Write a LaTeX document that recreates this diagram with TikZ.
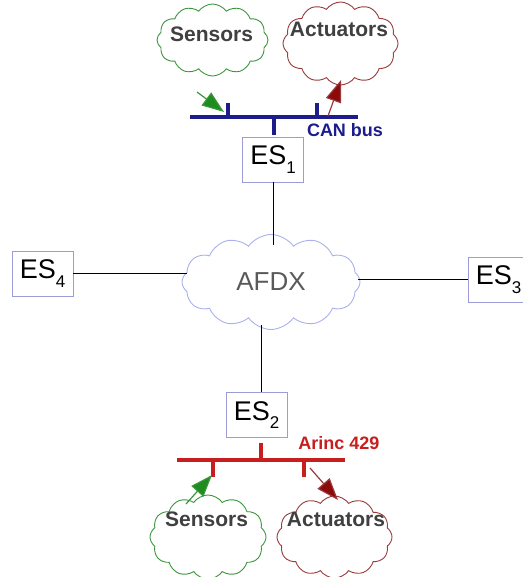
\documentclass[tikz,border=0pt]{standalone}
\usepackage{fontspec}
\setmainfont{Liberation Sans}
\usetikzlibrary{arrows.meta,shapes.symbols}
\definecolor{canblue}{HTML}{1C1C8C}
\definecolor{arincred}{HTML}{C81E1E}
\definecolor{sensgreen}{HTML}{3A963A}
\definecolor{sensfill}{HTML}{1E8C1E}
\definecolor{actred}{HTML}{9A3A3A}
\definecolor{actfill}{HTML}{8C0A0A}
\definecolor{boxline}{HTML}{9C9CDA}
\definecolor{afdxline}{HTML}{AAB0EE}
\definecolor{labelgray}{HTML}{404040}
\newcommand{\essub}[1]{ES\raisebox{-0.6ex}{\fontsize{17}{17}\selectfont #1}}

\begin{document}
\begin{tikzpicture}[x=1pt,y=-1pt,
    esbox/.style={rectangle, draw=boxline, line width=0.9pt, minimum width=61pt,
      minimum height=45pt, inner sep=0pt, font=\fontsize{27}{27}\selectfont},
    puff/.style={cloud, cloud puffs=12, cloud puff arc=110, cloud ignores aspect,
      line width=0.9pt, inner sep=0pt},
    cloudtext/.style={font=\bfseries\fontsize{21}{21}\selectfont, text=labelgray}]
      \useasboundingbox (0,0) rectangle (522,577);

      \begin{scope}[every node/.style={esbox}]
          \node (es1) at (273,159.5) {\essub{1}};
          \node (es2) at (256.5,415) {\essub{2}};
          \node (es3) at (498.5,279.5) {\essub{3}};
          \node (es4) at (42.5,273.5) {\essub{4}};
      \end{scope}

      \node[puff, draw=afdxline, minimum width=178pt, minimum height=95pt,
            font=\fontsize{26}{26}\selectfont, text=black!65] (afdx) at (271,282) {AFDX};

      \node[puff, draw=sensgreen, minimum width=111pt, minimum height=72pt] (sens1) at (212.5,40) {};
      \node[puff, draw=actred, minimum width=115pt, minimum height=83pt] (act1) at (340.5,43.5) {};
      \node[puff, draw=sensgreen, minimum width=116pt, minimum height=84pt] (sens2) at (208,537) {};
      \node[puff, draw=actred, minimum width=115pt, minimum height=82pt] (act2) at (334.5,537) {};

      \begin{scope}[every node/.style={cloudtext}]
          \node (sens1text) at (211.5,34) {Sensors};
          \node (act1text) at (339,29) {Actuators};
          \node (sens2text) at (206.5,519.5) {Sensors};
          \node (act2text) at (336,519) {Actuators};
      \end{scope}

      \node[font=\bfseries\fontsize{18}{18}\selectfont, text=canblue] (canlabel) at (345,130) {CAN bus};
      \node[font=\bfseries\fontsize{18}{18}\selectfont, text=arincred] (arinclabel) at (339,443) {Arinc 429};

      \coordinate (canL) at (190,117);
      \coordinate (canR) at (358,117);
      \coordinate (canS) at (228,103);
      \coordinate (canA) at (317,103);
      \coordinate (canE) at (274,135);
      \coordinate (arL) at (177,460);
      \coordinate (arR) at (345,460);
      \coordinate (arE) at (261,443);
      \coordinate (arS) at (213,477);
      \coordinate (arA) at (304,477);

      \draw[canblue, line width=4.5pt] (canL) -- (canR);
      \draw[canblue, line width=4pt] (canS) -- (canS |- canL);
      \draw[canblue, line width=4pt] (canA) -- (canA |- canL);
      \draw[canblue, line width=4pt] (canE) -- (canE |- canL);
      \draw[arincred, line width=4.5pt] (arL) -- (arR);
      \draw[arincred, line width=4pt] (arE) -- (arE |- arL);
      \draw[arincred, line width=4pt] (arS) -- (arS |- arL);
      \draw[arincred, line width=4pt] (arA) -- (arA |- arL);

      \draw (es1.south) -- ([yshift=-11pt]es1.south |- afdx.north);
      \draw ([xshift=4.5pt]es2.north) -- ([xshift=4.5pt,yshift=5pt]es2.north |- afdx.south);
      \draw (es4.east) -- ([xshift=5pt]afdx.west |- es4.east);
      \draw (es3.west) -- ([xshift=-2pt]afdx.east |- es3.west);

      \coordinate (s1from) at (197,92);
      \coordinate (s1to) at (224,112);
      \coordinate (a1from) at (328,116);
      \coordinate (a1to) at (341,80);
      \coordinate (s2from) at (186,504);
      \coordinate (s2to) at (212,475);
      \coordinate (a2from) at (310,468);
      \coordinate (a2to) at (338,500);

      \begin{scope}[line width=1.2pt]
          \draw[sensgreen, -{Triangle[length=22pt,width=16pt,fill=sensfill]}] (s1from) -- (s1to);
          \draw[actred, -{Triangle[length=22pt,width=16pt,fill=actfill]}] (a1from) -- (a1to);
          \draw[sensgreen, -{Triangle[length=22pt,width=16pt,fill=sensfill]}] (s2from) -- (s2to);
          \draw[actred, -{Triangle[length=22pt,width=16pt,fill=actfill]}] (a2from) -- (a2to);
      \end{scope}
\end{tikzpicture}
\end{document}
